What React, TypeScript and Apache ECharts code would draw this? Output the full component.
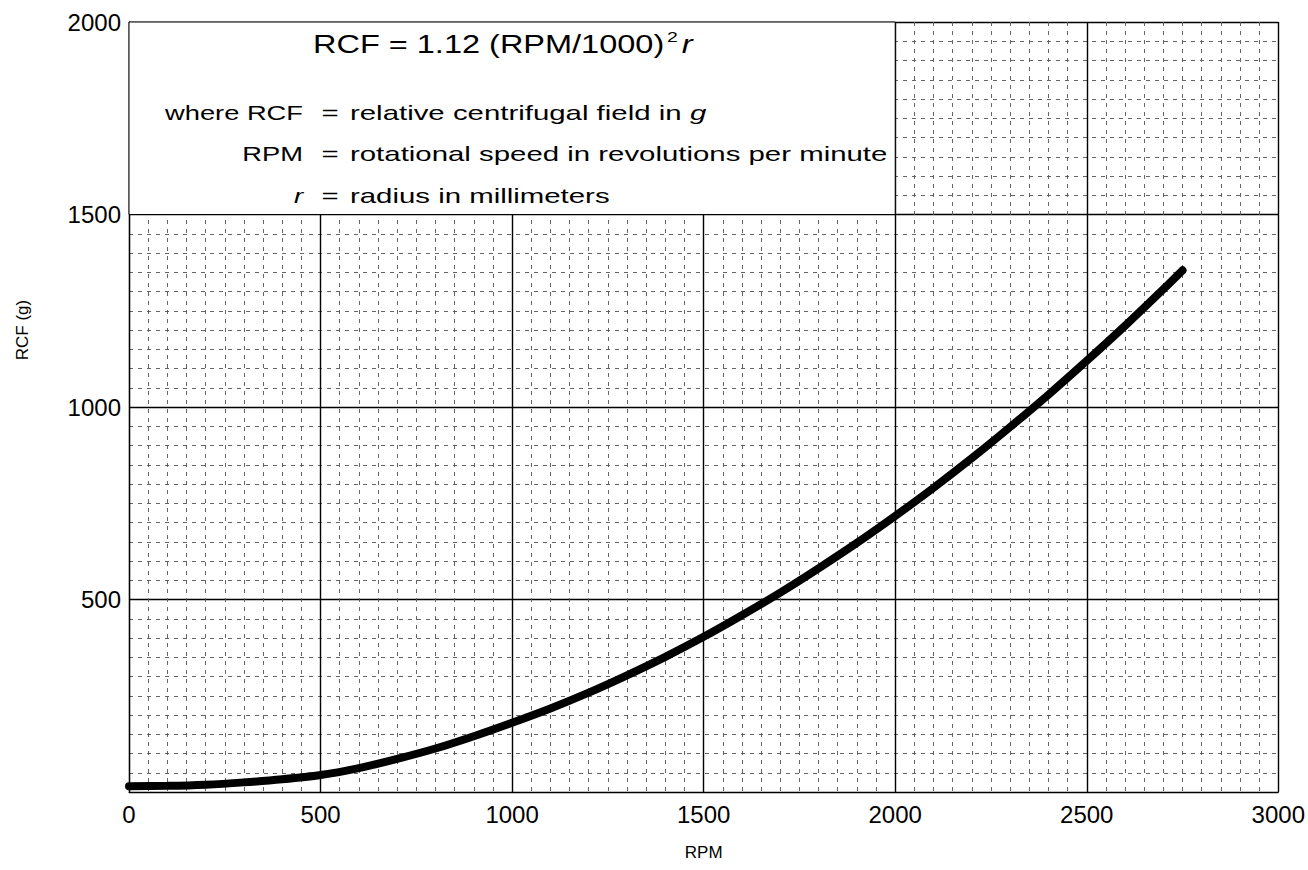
import React, { useEffect, useRef } from "react";
import * as echarts from "echarts";

const rpm = [0, 100, 200, 300, 400, 500, 600, 700, 800, 900, 1000, 1100, 1200, 1300, 1400, 1500, 1600, 1700, 1800, 1900, 2000, 2100, 2200, 2300, 2400, 2500, 2600, 2700, 2750];
const rcf = [15, 16, 19, 25, 33, 44, 62, 86, 113, 145, 180, 217, 258, 303, 351, 403, 459, 518, 581, 647, 717, 790, 867, 948, 1032, 1120, 1211, 1306, 1355];

const xTicks = [0, 500, 1000, 1500, 2000, 2500, 3000];
const yTicks = [0, 500, 1000, 1500, 2000];

const boxRange = { x0: 0, x1: 2000, y0: 1500, y1: 2000 };

const FONT = "'Liberation Sans', Arial, Helvetica, sans-serif";

export default function App() {
  const ref = useRef<HTMLDivElement>(null);
  useEffect(() => {
    if (!ref.current) return;
    const chart = echarts.init(ref.current, null, { renderer: "svg" });
    const sxTitle = 1.3;
    const sxLabel = 1.3;
    const sx = 1.4;
    const Z = 100;
    const rowText = (y: number, label: string, labelItalic: boolean, rich: string, richStyles: any) => [
      {
        type: "text",
        z: Z,
        x: 303,
        y,
        scaleX: sxLabel,
        style: {
          text: label,
          align: "right",
          verticalAlign: "middle",
          fontSize: 21,
          fontFamily: FONT,
          fontStyle: labelItalic ? "italic" : "normal",
          fill: "#000",
        },
      },
      {
        type: "text",
        z: Z,
        x: 330,
        y,
        scaleX: sx,
        style: { text: "=", align: "center", verticalAlign: "middle", fontSize: 21, fontFamily: FONT, fill: "#000" },
      },
      {
        type: "text",
        z: Z,
        x: 350,
        y,
        scaleX: sx,
        style: {
          text: rich,
          align: "left",
          verticalAlign: "middle",
          fontSize: 21,
          fontFamily: FONT,
          fill: "#000",
          rich: richStyles,
        },
      },
    ];
    const base = { fontSize: 21, fontFamily: FONT, color: "#000" };
    chart.setOption({
      animation: false,
      backgroundColor: "#fff",
      grid: { left: 129, right: 23, top: 22, bottom: 78, containLabel: false },
      xAxis: {
        type: "value",
        min: xTicks[0],
        max: xTicks[xTicks.length - 1],
        interval: 500,
        name: "RPM",
        nameLocation: "middle",
        nameGap: 52,
        nameTextStyle: { fontSize: 17, fontFamily: FONT, color: "#000" },
        axisLine: { show: true, lineStyle: { color: "#000", width: 1.2 } },
        axisTick: { show: false },
        axisLabel: { fontSize: 24, fontFamily: FONT, color: "#000", margin: 10, formatter: (v: number) => String(v) },
        splitLine: { show: true, lineStyle: { color: "#000", width: 1.4 } },
        minorTick: { show: false, splitNumber: 10 },
        minorSplitLine: { show: true, lineStyle: { color: "#555", width: 0.9, type: [4, 5] } },
      },
      yAxis: {
        type: "value",
        min: yTicks[0],
        max: yTicks[yTicks.length - 1],
        interval: 500,
        axisLine: { show: true, lineStyle: { color: "#000", width: 1.2 } },
        axisTick: { show: false },
        axisLabel: {
          fontSize: 24,
          fontFamily: FONT,
          color: "#000",
          margin: 8,
          formatter: (v: number) => (v === 0 ? "" : String(v)),
        },
        splitLine: { show: true, lineStyle: { color: "#000", width: 1.4 } },
        minorTick: { show: false, splitNumber: 10 },
        minorSplitLine: { show: true, lineStyle: { color: "#555", width: 0.9, type: [4, 5] } },
      },
      series: [
        {
          type: "line",
          data: rpm.map((x, i) => [x, rcf[i]]),
          smooth: 0.3,
          showSymbol: false,
          lineStyle: { color: "#000", width: 8, cap: "round" },
          silent: true,
          markArea: {
            silent: true,
            itemStyle: { color: "#fff", borderColor: "#000", borderWidth: 1 },
            data: [[{ coord: [boxRange.x0, boxRange.y0] }, { coord: [boxRange.x1, boxRange.y1] }]],
          },
        },
      ],
      graphic: [
        {
          type: "text",
          z: Z,
          x: 313,
          y: 44,
          scaleX: sxTitle,
          style: {
            text: "{n|RCF = 1.12 (RPM/1000)}{s|2}{i|r}",
            align: "left",
            verticalAlign: "middle",
            rich: {
              n: { fontSize: 25, fontFamily: FONT, color: "#000" },
              s: { fontSize: 15, fontFamily: FONT, color: "#000", padding: [0, 3, 14, 2] },
              i: { fontSize: 25, fontFamily: FONT, color: "#000", fontStyle: "italic" },
            },
          },
        },
        ...rowText(113, "where RCF", false, "{t|relative centrifugal field in }{i|g}", {
          t: base,
          i: { ...base, fontStyle: "italic" },
        }),
        ...rowText(154, "RPM", false, "{t|rotational speed in revolutions per minute}", { t: base }),
        ...rowText(196, "r", true, "{t|radius in millimeters}", { t: base }),
        {
          type: "text",
          z: Z,
          x: 22,
          y: 330,
          rotation: Math.PI / 2,
          style: {
            text: "RCF (g)",
            align: "center",
            verticalAlign: "middle",
            fontSize: 17,
            fontFamily: FONT,
            fill: "#000",
          },
        },
      ],
    });
    return () => chart.dispose();
  }, []);
  return <div ref={ref} style={{ position: "fixed", left: 0, top: 0, width: 1308, height: 870 }} />;
}
